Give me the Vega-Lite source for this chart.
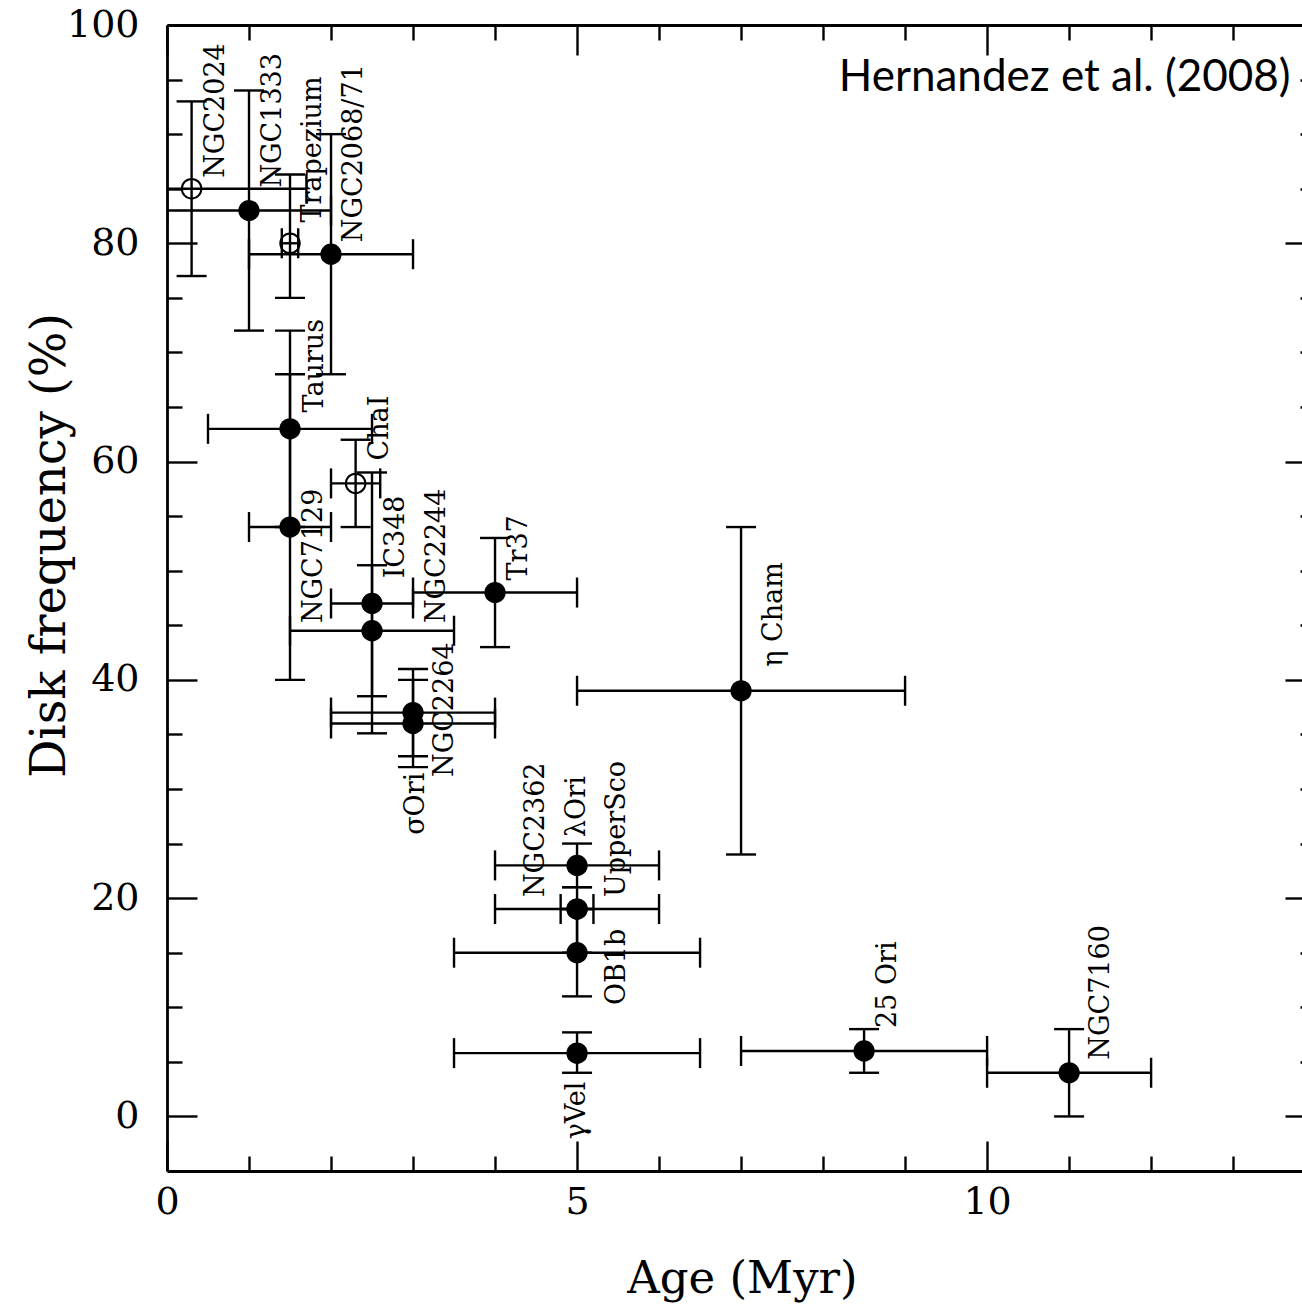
{
  "$schema": "https://vega.github.io/schema/vega-lite/v6.json",
  "width": 1135,
  "height": 1146,
  "autosize": "none",
  "padding": {"left": 167, "top": 25, "right": 0, "bottom": 139},
  "background": "white",
  "config": {"view": {"stroke": null}},
  "datasets": {
    "clusters": [
      {"name": "NGC2024", "age": 0.3, "freq": 85, "age_lo": -1.1, "age_hi": 1.7, "freq_lo": 77, "freq_hi": 93, "open": true, "lx": 0.60, "ly": 86.0},
      {"name": "NGC1333", "age": 1.0, "freq": 83, "age_lo": 0.0, "age_hi": 2.0, "freq_lo": 72, "freq_hi": 94, "open": false, "lx": 1.29, "ly": 85.1},
      {"name": "Trapezium", "age": 1.5, "freq": 80, "age_lo": 1.4, "age_hi": 1.6, "freq_lo": 75, "freq_hi": 86.3, "open": true, "lx": 1.78, "ly": 81.9},
      {"name": "NGC2068/71", "age": 2.0, "freq": 79, "age_lo": 1.0, "age_hi": 3.0, "freq_lo": 68, "freq_hi": 90, "open": false, "lx": 2.28, "ly": 80.1},
      {"name": "Taurus", "age": 1.5, "freq": 63, "age_lo": 0.5, "age_hi": 2.5, "freq_lo": 54, "freq_hi": 72, "open": false, "lx": 1.80, "ly": 64.5},
      {"name": "NGC7129", "age": 1.5, "freq": 54, "age_lo": 1.0, "age_hi": 2.0, "freq_lo": 40, "freq_hi": 68, "open": false, "lx": 1.79, "ly": 45.2},
      {"name": "ChaI", "age": 2.3, "freq": 58, "age_lo": 2.0, "age_hi": 2.6, "freq_lo": 54, "freq_hi": 62, "open": true, "lx": 2.60, "ly": 60.1},
      {"name": "IC348", "age": 2.5, "freq": 47, "age_lo": 2.0, "age_hi": 3.0, "freq_lo": 35.1, "freq_hi": 59, "open": false, "lx": 2.79, "ly": 49.3},
      {"name": "NGC2244", "age": 2.5, "freq": 44.5, "age_lo": 1.5, "age_hi": 3.5, "freq_lo": 38.5, "freq_hi": 50.5, "open": false, "lx": 3.29, "ly": 45.2},
      {"name": "NGC2264", "age": 3.0, "freq": 37, "age_lo": 2.0, "age_hi": 4.0, "freq_lo": 33, "freq_hi": 41, "open": false, "lx": 3.39, "ly": 31.1},
      {"name": "σOri", "age": 3.0, "freq": 36, "age_lo": 2.0, "age_hi": 4.0, "freq_lo": 32, "freq_hi": 40, "open": false, "lx": 3.04, "ly": 25.8},
      {"name": "Tr37", "age": 4.0, "freq": 48, "age_lo": 3.0, "age_hi": 5.0, "freq_lo": 43, "freq_hi": 53, "open": false, "lx": 4.29, "ly": 49.1},
      {"name": "η Cham", "age": 7.0, "freq": 39, "age_lo": 5.0, "age_hi": 9.0, "freq_lo": 24, "freq_hi": 54, "open": false, "lx": 7.40, "ly": 41.2},
      {"name": "λOri", "age": 5.0, "freq": 23, "age_lo": 4.0, "age_hi": 6.0, "freq_lo": 21, "freq_hi": 25, "open": false, "lx": 5.0, "ly": 25.6},
      {"name": "NGC2362", "age": 5.0, "freq": 19, "age_lo": 4.8, "age_hi": 5.2, "freq_lo": null, "freq_hi": null, "open": false, "lx": 4.50, "ly": 20.1},
      {"name": "UpperSco", "age": 5.0, "freq": 19, "age_lo": 4.0, "age_hi": 6.0, "freq_lo": 15, "freq_hi": 21, "open": false, "lx": 5.49, "ly": 20.1},
      {"name": "OB1b", "age": 5.0, "freq": 15, "age_lo": 3.5, "age_hi": 6.5, "freq_lo": 11, "freq_hi": 19, "open": false, "lx": 5.49, "ly": 10.2},
      {"name": "γVel", "age": 5.0, "freq": 5.8, "age_lo": 3.5, "age_hi": 6.5, "freq_lo": 4.0, "freq_hi": 7.7, "open": false, "lx": 5.0, "ly": -2.1},
      {"name": "25 Ori", "age": 8.5, "freq": 6, "age_lo": 7.0, "age_hi": 10.0, "freq_lo": 4, "freq_hi": 8, "open": false, "lx": 8.79, "ly": 8.1},
      {"name": "NGC7160", "age": 11.0, "freq": 4, "age_lo": 10.0, "age_hi": 12.0, "freq_lo": 0, "freq_hi": 8, "open": false, "lx": 11.39, "ly": 5.2}
    ],
    "note": [
      {"text": "Hernandez et al. (2008)", "x": 13.7, "y": 95.1}
    ]
  },
  "resolve": {"axis": {"x": "independent", "y": "independent"}},
  "layer": [
    {
      "data": {"name": "clusters"},
      "mark": {"type": "rule", "color": "black", "strokeWidth": 2.4, "clip": true},
      "encoding": {
        "x": {"field": "age_lo", "type": "quantitative", "scale": {"domain": [0, 13.84], "nice": false, "zero": false},
          "axis": {"orient": "bottom", "values": [0, 5, 10], "ticks": false, "grid": false, "domain": true, "domainColor": "black", "domainWidth": 2.8,
            "labelFont": "DejaVu Serif", "labelFontSize": 38, "labelColor": "black", "labelPadding": 12, "labelFlush": false, "labelOverlap": false,
            "title": "Age (Myr)", "titleFont": "DejaVu Serif", "titleFontSize": 45, "titleFontWeight": "normal", "titleColor": "black",
            "titleX": 575, "titleY": 107, "titleBaseline": "middle", "titleAlign": "center", "titleAnchor": null}},
        "x2": {"field": "age_hi"},
        "y": {"field": "freq", "type": "quantitative", "scale": {"domain": [-5, 100], "nice": false, "zero": false},
          "axis": {"orient": "left", "values": [0, 20, 40, 60, 80, 100], "ticks": false, "grid": false, "domain": true, "domainColor": "black", "domainWidth": 2.8,
            "labelFont": "DejaVu Serif", "labelFontSize": 38, "labelColor": "black", "labelPadding": 28, "labelFlush": false, "labelOverlap": false,
            "title": "Disk frequency (%)", "titleFont": "DejaVu Serif", "titleFontSize": 48, "titleFontWeight": "normal", "titleColor": "black",
            "titleX": -117, "titleY": 520, "titleAngle": 270, "titleBaseline": "middle", "titleAlign": "center"}}
      }
    },
    {
      "data": {"name": "clusters"},
      "mark": {"type": "rule", "color": "black", "strokeWidth": 2.4, "clip": true},
      "encoding": {
        "x": {"field": "age", "type": "quantitative", "scale": {"domain": [0, 13.84], "nice": false, "zero": false},
          "axis": {"orient": "bottom", "values": [0, 5, 10], "labels": false, "domain": false, "grid": false, "tickSize": -30, "tickWidth": 2.4, "tickColor": "black", "title": null}},
        "y": {"field": "freq_lo", "type": "quantitative", "scale": {"domain": [-5, 100], "nice": false, "zero": false},
          "axis": {"orient": "left", "values": [0, 20, 40, 60, 80, 100], "labels": false, "domain": false, "grid": false, "tickSize": -30, "tickWidth": 2.4, "tickColor": "black", "title": null}},
        "y2": {"field": "freq_hi"}
      }
    },
    {
      "data": {"name": "clusters"},
      "mark": {"type": "tick", "orient": "vertical", "size": 30, "thickness": 2.4, "color": "black", "opacity": 1, "clip": true},
      "encoding": {
        "x": {"field": "age_lo", "type": "quantitative", "scale": {"domain": [0, 13.84], "nice": false, "zero": false},
          "axis": {"orient": "bottom", "values": [1, 2, 3, 4, 6, 7, 8, 9, 11, 12, 13], "labels": false, "domain": false, "grid": false, "tickSize": -15, "tickWidth": 2.4, "tickColor": "black", "title": null}},
        "y": {"field": "freq", "type": "quantitative", "scale": {"domain": [-5, 100], "nice": false, "zero": false},
          "axis": {"orient": "left", "values": [5, 10, 15, 25, 30, 35, 45, 50, 55, 65, 70, 75, 85, 90, 95], "labels": false, "domain": false, "grid": false, "tickSize": -15, "tickWidth": 2.4, "tickColor": "black", "title": null}}
      }
    },
    {
      "data": {"name": "clusters"},
      "mark": {"type": "tick", "orient": "vertical", "size": 30, "thickness": 2.4, "color": "black", "opacity": 1, "clip": true},
      "encoding": {
        "x": {"field": "age_hi", "type": "quantitative", "scale": {"domain": [0, 13.84], "nice": false, "zero": false},
          "axis": {"orient": "top", "values": [0, 5, 10], "labels": false, "domain": true, "domainColor": "black", "domainWidth": 2.8, "grid": false, "tickSize": -30, "tickWidth": 2.4, "tickColor": "black", "title": null}},
        "y": {"field": "freq", "type": "quantitative", "scale": {"domain": [-5, 100], "nice": false, "zero": false},
          "axis": {"orient": "right", "values": [0, 20, 40, 60, 80, 100], "labels": false, "domain": false, "grid": false, "tickSize": -17, "tickWidth": 2.4, "tickColor": "black", "title": null}}
      }
    },
    {
      "data": {"name": "clusters"},
      "mark": {"type": "tick", "orient": "horizontal", "size": 30, "thickness": 2.4, "color": "black", "opacity": 1, "clip": true},
      "encoding": {
        "x": {"field": "age", "type": "quantitative", "scale": {"domain": [0, 13.84], "nice": false, "zero": false},
          "axis": {"orient": "top", "values": [1, 2, 3, 4, 6, 7, 8, 9, 11, 12, 13], "labels": false, "domain": false, "grid": false, "tickSize": -15, "tickWidth": 2.4, "tickColor": "black", "title": null}},
        "y": {"field": "freq_lo", "type": "quantitative", "scale": {"domain": [-5, 100], "nice": false, "zero": false},
          "axis": {"orient": "right", "values": [5, 10, 15, 25, 30, 35, 45, 50, 55, 65, 70, 75, 85, 90, 95], "labels": false, "domain": false, "grid": false, "tickSize": -2, "tickWidth": 2.4, "tickColor": "black", "title": null}}
      }
    },
    {
      "data": {"name": "clusters"},
      "mark": {"type": "tick", "orient": "horizontal", "size": 30, "thickness": 2.4, "color": "black", "opacity": 1, "clip": true},
      "encoding": {
        "x": {"field": "age", "type": "quantitative", "scale": {"domain": [0, 13.84], "nice": false, "zero": false}, "axis": null},
        "y": {"field": "freq_hi", "type": "quantitative", "scale": {"domain": [-5, 100], "nice": false, "zero": false}, "axis": null}
      }
    },
    {
      "data": {"name": "clusters"},
      "transform": [{"filter": "!datum.open"}],
      "mark": {"type": "point", "shape": "circle", "filled": true, "size": 452, "color": "black", "opacity": 1},
      "encoding": {
        "x": {"field": "age", "type": "quantitative", "scale": {"domain": [0, 13.84], "nice": false, "zero": false}, "axis": null},
        "y": {"field": "freq", "type": "quantitative", "scale": {"domain": [-5, 100], "nice": false, "zero": false}, "axis": null}
      }
    },
    {
      "data": {"name": "clusters"},
      "transform": [{"filter": "datum.open"}],
      "mark": {"type": "point", "shape": "circle", "filled": false, "size": 380, "stroke": "black", "strokeWidth": 2, "opacity": 1},
      "encoding": {
        "x": {"field": "age", "type": "quantitative", "scale": {"domain": [0, 13.84], "nice": false, "zero": false}, "axis": null},
        "y": {"field": "freq", "type": "quantitative", "scale": {"domain": [-5, 100], "nice": false, "zero": false}, "axis": null}
      }
    },
    {
      "data": {"name": "clusters"},
      "mark": {"type": "text", "angle": 270, "align": "left", "baseline": "middle", "font": "DejaVu Serif", "fontSize": 27, "color": "black"},
      "encoding": {
        "x": {"field": "lx", "type": "quantitative", "scale": {"domain": [0, 13.84], "nice": false, "zero": false}, "axis": null},
        "y": {"field": "ly", "type": "quantitative", "scale": {"domain": [-5, 100], "nice": false, "zero": false}, "axis": null},
        "text": {"field": "name"}
      }
    },
    {
      "data": {"name": "note"},
      "mark": {"type": "text", "align": "right", "baseline": "middle", "font": "Lato", "fontSize": 44, "color": "black"},
      "encoding": {
        "x": {"field": "x", "type": "quantitative", "scale": {"domain": [0, 13.84], "nice": false, "zero": false}, "axis": null},
        "y": {"field": "y", "type": "quantitative", "scale": {"domain": [-5, 100], "nice": false, "zero": false}, "axis": null},
        "text": {"field": "text"}
      }
    }
  ]
}
